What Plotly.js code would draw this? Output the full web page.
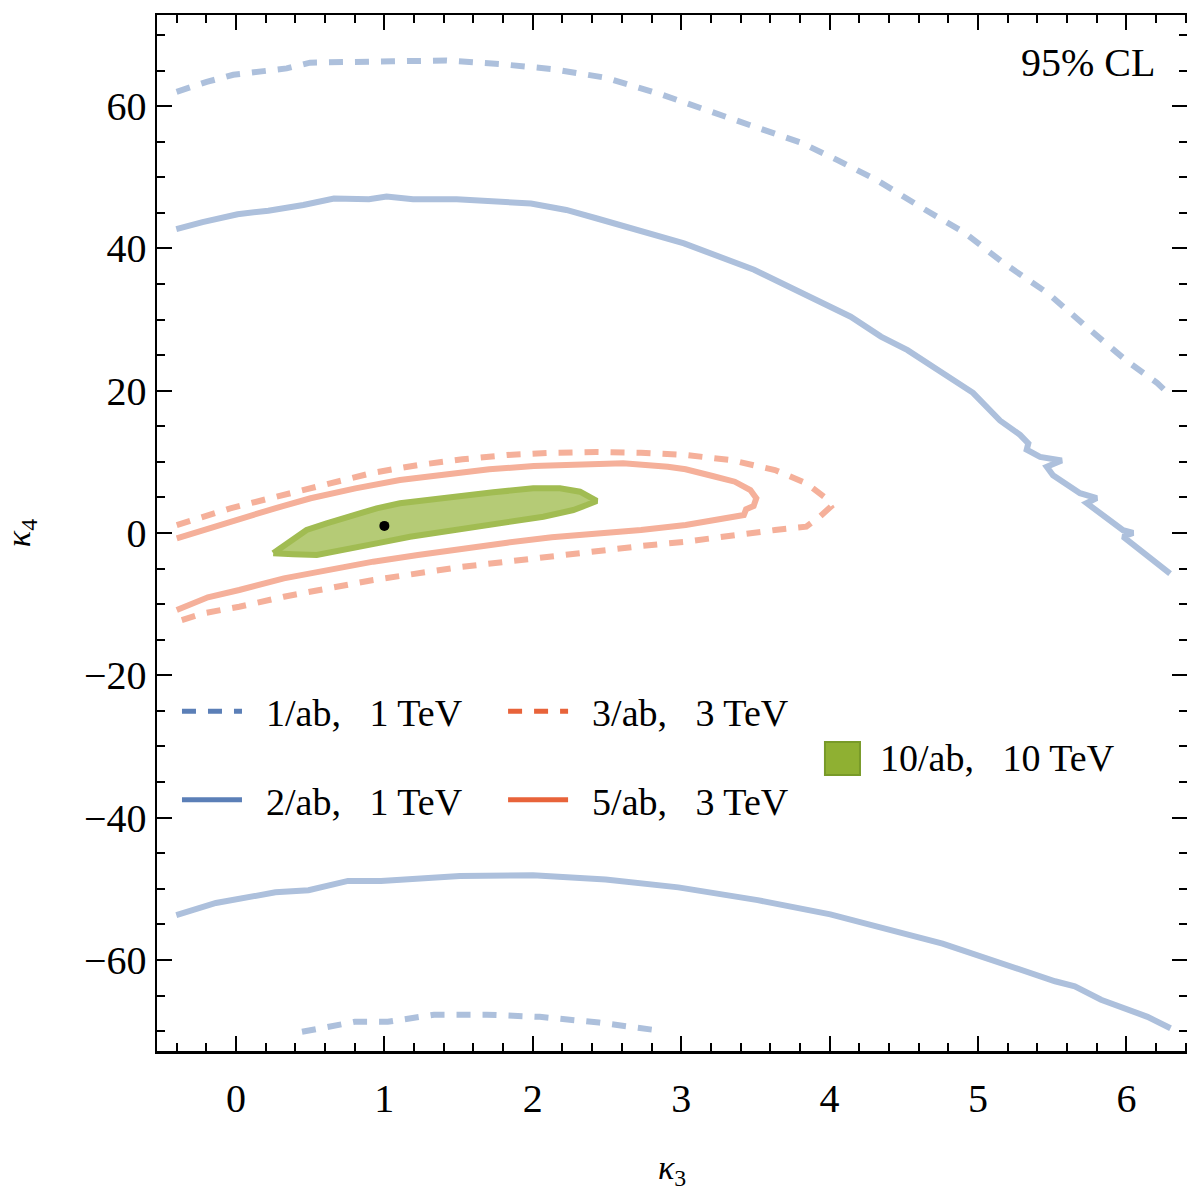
<!DOCTYPE html>
<html>
<head>
<meta charset="utf-8">
<script src="https://cdn.plot.ly/plotly-3.0.1.min.js"></script>
<style>html,body{margin:0;padding:0;overflow:hidden;background:#fff;}</style>
</head>
<body>
<div id="chart" style="width:1187px;height:1191px;"></div>
<script>
// ---- Data ----
// 1/ab, 1 TeV (dashed blue), upper and lower branches
const k3_1ab_up = [-0.40,-0.197,-0.018,0.162,0.342,0.499,0.70,1.058,1.42,1.597,1.779,2.133,2.487,2.842,3.138,3.491,3.814,4.053,4.318,4.614,4.909,5.175,5.47,5.735,6.001,6.206,6.307];
const k4_1ab_up = [62.0,63.4,64.4,64.8,65.3,66.1,66.1,66.3,66.4,66.2,65.9,65.2,64.0,61.8,59.7,57.2,54.8,52.4,49.6,45.8,42.2,37.9,33.7,28.9,24.2,21.1,19.1];
const k3_1ab_lo = [0.445,0.80,1.023,1.334,1.69,2.047,2.446,2.803];
const k4_1ab_lo = [-70.1,-68.7,-68.7,-67.7,-67.7,-68.0,-68.8,-69.8];

// 2/ab, 1 TeV (solid blue), upper and lower branches
const k3_2ab_up = [-0.402,-0.225,0.011,0.218,0.454,0.660,0.896,1.015,1.193,1.487,1.988,2.226,2.433,2.756,3.019,3.491,3.846,4.142,4.346,4.525,4.730,4.966,5.148,5.283,5.339,5.328,5.418,5.564,5.463,5.505,5.687,5.80,5.732,5.977,6.045,5.977,6.294];
const k4_2ab_up = [42.7,43.7,44.8,45.3,46.1,47.0,46.9,47.3,46.9,46.9,46.3,45.4,44.2,42.3,40.7,37.0,33.4,30.4,27.6,25.7,22.9,19.7,15.8,13.8,12.6,11.7,10.7,10.2,9.3,8.1,5.6,4.9,4.2,0.4,0.0,-0.5,-5.7];
const k3_2ab_lo = [-0.402,-0.135,0.266,0.489,0.755,0.977,1.509,2.001,2.491,2.981,3.515,4.005,4.761,5.519,5.652,5.829,6.142,6.297];
const k4_2ab_lo = [-53.7,-52.0,-50.5,-50.2,-48.9,-48.9,-48.2,-48.1,-48.7,-49.8,-51.6,-53.6,-57.7,-63.0,-63.7,-65.6,-68.0,-69.6];

// 3/ab, 3 TeV (dashed orange)
const k3_3ab = [-0.399,-0.218,-0.038,0.202,0.443,0.684,0.925,1.226,1.526,1.827,2.128,2.429,2.729,3.030,3.332,3.632,3.843,3.962,4.008,3.933,3.843,3.632,3.332,3.030,2.729,2.429,2.128,1.827,1.526,1.226,0.925,0.624,0.323,0.022,-0.218,-0.399];
const k4_3ab = [1.12,2.29,3.47,4.74,5.94,7.35,8.47,9.55,10.36,10.96,11.28,11.38,11.28,10.96,10.26,8.85,6.98,5.10,3.70,2.29,0.89,0.42,-0.42,-1.22,-1.83,-2.63,-3.33,-4.03,-4.74,-5.58,-6.60,-7.77,-8.95,-10.36,-11.28,-12.46];

// 5/ab, 3 TeV (solid orange)
const k3_5ab = [-0.399,-0.189,0.022,0.263,0.503,0.805,1.105,1.406,1.707,2.007,2.309,2.609,2.910,3.030,3.211,3.361,3.466,3.506,3.488,3.437,3.422,3.302,3.030,2.729,2.429,2.128,1.827,1.526,1.226,0.925,0.624,0.323,0.022,-0.189,-0.399];
const k4_5ab = [-0.74,0.66,2.07,3.47,4.88,6.28,7.45,8.29,8.95,9.41,9.70,9.79,9.32,8.95,8.01,7.21,6.04,4.88,3.79,3.33,2.53,2.07,1.12,0.42,-0.04,-0.60,-1.36,-2.15,-3.09,-4.03,-5.10,-6.37,-8.01,-9.04,-10.82];

// 10/ab, 10 TeV (filled green region)
const k3_10ab = [0.251,0.364,0.476,0.611,0.746,0.836,0.948,1.105,1.285,1.509,1.734,2.003,2.183,2.318,2.431,2.363,2.273,2.071,1.846,1.622,1.397,1.173,0.948,0.723,0.544,0.386,0.251];
const k4_10ab = [-2.85,-1.22,0.42,1.36,2.15,2.63,3.47,4.17,4.64,5.24,5.72,6.28,6.28,5.80,4.50,3.93,3.23,2.29,1.59,0.89,0.18,-0.52,-1.45,-2.39,-3.09,-2.99,-2.85];

// Standard Model point
const sm_k3 = [1];
const sm_k4 = [1];

const legendLabels = ["1/ab,\u00a0\u00a0 1 TeV","2/ab,\u00a0\u00a0 1 TeV","3/ab,\u00a0\u00a0 3 TeV","5/ab,\u00a0\u00a0 3 TeV","10/ab,\u00a0\u00a0 10 TeV"];

// ---- Styles ----
const FONT = "Liberation Serif, Times New Roman, serif";
const blueLight = "#adc0dc", blueDark = "#5b7fb7";
const orangeLight = "#f5b09a", orangeDark = "#e8633a";
const greenFill = "#b5cb76", greenLine = "#a1bc52", greenLeg = "#8fb032", greenLegLine = "#789a28";
const DASH = "14px,12px";
const LW = 6;
const PAD = "\u00a0\u00a0";

const traces = [];
function line(x, y, color, dash) {
  traces.push({type:"scatter", mode:"lines", x:x, y:y, showlegend:false, hoverinfo:"skip",
    line:{color:color, width:LW, dash:dash||"solid"}});
}
line(k3_1ab_up, k4_1ab_up, blueLight, DASH);
line(k3_1ab_lo, k4_1ab_lo, blueLight, DASH);
line(k3_2ab_up, k4_2ab_up, blueLight);
line(k3_2ab_lo, k4_2ab_lo, blueLight);
line(k3_3ab, k4_3ab, orangeLight, DASH);
line(k3_5ab, k4_5ab, orangeLight);
traces.push({type:"scatter", mode:"lines", x:k3_10ab, y:k4_10ab, fill:"toself", fillcolor:greenFill,
  line:{color:greenLine, width:6}, showlegend:false, hoverinfo:"skip"});
traces.push({type:"scatter", mode:"markers", x:sm_k3, y:sm_k4, marker:{color:"black", size:10}, showlegend:false});

// legend entries (line styles in the darker legend colours)
function legItem(name, color, dash, legend, group) {
  traces.push({type:"scatter", mode:"lines", x:[null], y:[null], name:PAD + name, legend:legend, legendgroup:group,
    line:{color:color, width:5, dash:dash||"solid"}});
}
legItem(legendLabels[0], blueDark, DASH, "legend", "a");
legItem(legendLabels[1], blueDark, null, "legend", "b");
legItem(legendLabels[2], orangeDark, DASH, "legend2", "c");
legItem(legendLabels[3], orangeDark, null, "legend2", "d");

const legBase = {bgcolor:"rgba(0,0,0,0)", borderwidth:0, font:{family:FONT, size:38, color:"black"},
  traceorder:"grouped", tracegroupgap:36, xanchor:"left", yanchor:"top", itemwidth:60};

const axisCommon = {
  showgrid:false, zeroline:false, showline:true, linecolor:"black", linewidth:2.5,
  ticks:"inside", ticklen:15, tickwidth:2, tickcolor:"black", mirror:"allticks",
  tickfont:{family:FONT, size:40, color:"black"},
  minor:{ticks:"inside", ticklen:8, tickwidth:2, tickcolor:"black", showgrid:false}
};

const layout = {
  width:1187, height:1191,
  margin:{l:157, r:0, t:15, b:140},
  paper_bgcolor:"white", plot_bgcolor:"white",
  showlegend:true,
  xaxis:Object.assign({}, axisCommon, {
    range:[-0.532, 6.408], dtick:1, tick0:0, ticklabelstandoff:10,
    minor:Object.assign({}, axisCommon.minor, {dtick:0.2}),
    title:{text:"<i>κ</i><sub>3</sub>", font:{family:FONT, size:34, color:"black"}, standoff:44}
  }),
  yaxis:Object.assign({}, axisCommon, {
    range:[-72.8, 72.8], dtick:20, tick0:0, ticklabelstandoff:0,
    minor:Object.assign({}, axisCommon.minor, {dtick:5}),
    title:{text:"<i>κ</i><sub>4</sub>", font:{family:FONT, size:34, color:"black"}, standoff:46}
  }),
  legend:Object.assign({}, legBase, {x:0.0194, y:0.358}),
  legend2:Object.assign({}, legBase, {x:0.336, y:0.358}),
  shapes:[{type:"rect", xref:"paper", yref:"paper", x0:0.6485, x1:0.6825, y0:0.2664, y1:0.2983,
    fillcolor:greenLeg, line:{color:greenLegLine, width:2}}],
  annotations:[
    {text:"95% CL", xref:"paper", yref:"paper", x:0.971, y:0.954, xanchor:"right", yanchor:"middle",
      showarrow:false, font:{family:FONT, size:40, color:"black"}},
    {text:legendLabels[4], xref:"paper", yref:"paper", x:0.700, y:0.2828, xanchor:"left", yanchor:"middle",
      showarrow:false, font:{family:FONT, size:38, color:"black"}}
  ]
};

Plotly.newPlot("chart", traces, layout, {displayModeBar:false, staticPlot:true});
</script>
</body>
</html>
